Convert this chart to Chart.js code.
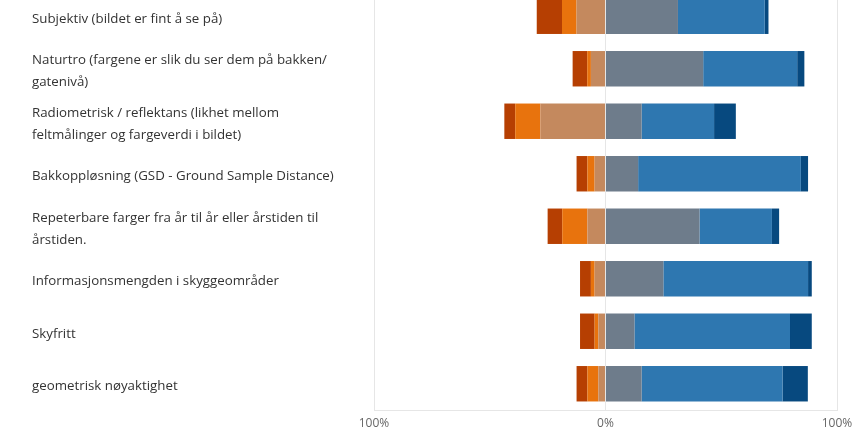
<!DOCTYPE html>
<html>
<head>
<meta charset="utf-8">
<script src="https://cdn.jsdelivr.net/npm/chart.js@4"></script>
<style>
  html, body { margin: 0; padding: 0; background: #fff; overflow: hidden; width: 853px; height: 428px; }
  #wrap { position: relative; width: 853px; height: 428px; overflow: hidden; }
  #c { position: absolute; left: 0; top: -10px; }
</style>
</head>
<body>
<div id="wrap"><canvas id="c" width="853" height="442"></canvas></div>
<script>
const categories = [
  ["Subjektiv (bildet er fint å se på)"],
  ["Naturtro (fargene er slik du ser dem på bakken/", "gatenivå)"],
  ["Radiometrisk / reflektans (likhet mellom", "feltmålinger og fargeverdi i bildet)"],
  ["Bakkoppløsning (GSD - Ground Sample Distance)"],
  ["Repeterbare farger fra år til år eller årstiden til", "årstiden."],
  ["Informasjonsmengden i skyggeområder"],
  ["Skyfritt"],
  ["geometrisk nøyaktighet"]
];
// left side (shown to the left of 0%), percentages
const darkRed = [10.9, 6.3, 4.7, 4.7, 6.3, 4.7, 6.3, 4.7];
const orange  = [6.3, 1.6, 10.9, 3.1, 10.9, 1.6, 1.6, 4.7];
const tan     = [12.5, 6.3, 28.1, 4.7, 7.8, 4.7, 3.1, 3.1];
// right side
const gray    = [31.3, 42.2, 15.6, 14.1, 40.6, 25.0, 12.5, 15.6];
const blue    = [37.5, 40.6, 31.3, 70.3, 31.3, 62.5, 67.2, 60.9];
const navy    = [1.6, 3.1, 9.4, 3.1, 3.1, 1.6, 9.4, 10.9];
const xTicks  = [-100, 0, 100];

const neg = a => a.map(v => -v);
const common = { borderWidth: 0, barPercentage: 0.675, categoryPercentage: 1, stack: 's' };

new Chart(document.getElementById('c'), {
  type: 'bar',
  data: {
    labels: categories,
    datasets: [
      Object.assign({ label: 'tan', data: neg(tan), backgroundColor: '#C4895E' }, common),
      Object.assign({ label: 'orange', data: neg(orange), backgroundColor: '#E8730D' }, common),
      Object.assign({ label: 'darkRed', data: neg(darkRed), backgroundColor: '#B63F02' }, common),
      Object.assign({ label: 'gray', data: gray, backgroundColor: '#6E7C8B' }, common),
      Object.assign({ label: 'blue', data: blue, backgroundColor: '#2E77B0' }, common),
      Object.assign({ label: 'navy', data: navy, backgroundColor: '#07497F' }, common)
    ]
  },
  options: {
    indexAxis: 'y',
    responsive: false,
    animation: false,
    devicePixelRatio: 1,
    layout: { padding: { left: 32, right: 16, top: 0, bottom: 0 } },
    plugins: { legend: { display: false }, tooltip: { enabled: false } },
    scales: {
      x: {
        stacked: true,
        min: -100, max: 100,
        afterBuildTicks: s => { s.ticks = xTicks.map(v => ({ value: v })); },
        afterFit: s => { s.height = 22; s.paddingLeft = 0; s.paddingRight = 0; },
        grid: { color: '#E6E6E6', drawTicks: false, lineWidth: 1 },
        border: { display: true, color: '#E6E6E6' },
        ticks: {
          padding: 6,
          color: '#666666',
          font: { family: 'Open Sans', size: 12 },
          callback: v => Math.abs(v) + '%',
          maxRotation: 0
        }
      },
      y: {
        stacked: true,
        afterFit: s => { s.width = 342; s.paddingTop = 0; s.paddingBottom = 0; },
        grid: { display: false, drawTicks: false },
        border: { display: false },
        ticks: {
          crossAlign: 'far',
          labelOffset: 2.5,
          color: '#333333',
          font: { family: 'Open Sans', size: 13.3, lineHeight: 1.65 }
        }
      }
    }
  }
});
</script>
</body>
</html>
